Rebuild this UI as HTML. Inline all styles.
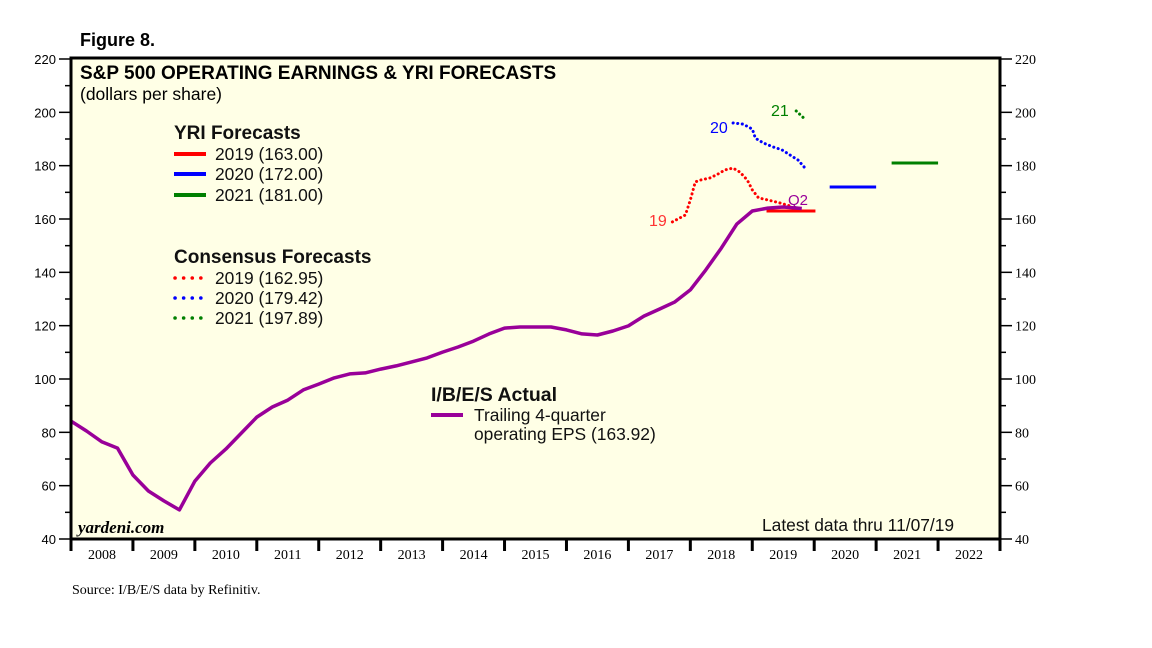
<!DOCTYPE html>
<html><head><meta charset="utf-8"><style>
body{margin:0;background:#fff;}
svg{display:block;}
</style></head><body>
<svg id="chart" width="1152" height="648" xmlns="http://www.w3.org/2000/svg">
<rect x="71" y="58" width="929" height="481" fill="#ffffe6"/>
<g id="grid"></g>
<g id="series"></g>
<rect x="71" y="58" width="929" height="481" fill="none" stroke="#000" stroke-width="3"/>
<text x="80" y="46" font-family="Liberation Sans, sans-serif" font-weight="bold" font-size="18">Figure 8.</text>
<text x="80" y="79" font-family="Liberation Sans, sans-serif" font-weight="bold" font-size="19">S&amp;P 500 OPERATING EARNINGS &amp; YRI FORECASTS</text>
<text x="80" y="100" font-family="Liberation Sans, sans-serif" font-size="17.5">(dollars per share)</text>
<g font-family="Liberation Sans, sans-serif" font-size="17.4" fill="#111">
<text x="174" y="139" font-weight="bold" font-size="19">YRI Forecasts</text>
<line x1="174" y1="154" x2="206" y2="154" stroke="#f00" stroke-width="4"/>
<text x="215" y="160">2019 (163.00)</text>
<line x1="174" y1="174" x2="206" y2="174" stroke="#00f" stroke-width="4"/>
<text x="215" y="180">2020 (172.00)</text>
<line x1="174" y1="195" x2="206" y2="195" stroke="#008000" stroke-width="4"/>
<text x="215" y="201">2021 (181.00)</text>
<text x="174" y="263" font-weight="bold" font-size="19">Consensus Forecasts</text>
<line x1="175" y1="278" x2="201" y2="278" stroke="#f00" stroke-width="3.5" stroke-dasharray="0.1,8.5" stroke-linecap="round"/>
<text x="215" y="284">2019 (162.95)</text>
<line x1="175" y1="298" x2="201" y2="298" stroke="#00f" stroke-width="3.5" stroke-dasharray="0.1,8.5" stroke-linecap="round"/>
<text x="215" y="304">2020 (179.42)</text>
<line x1="175" y1="318" x2="201" y2="318" stroke="#008000" stroke-width="3.5" stroke-dasharray="0.1,8.5" stroke-linecap="round"/>
<text x="215" y="324">2021 (197.89)</text>
<text x="431" y="401" font-weight="bold" font-size="19.5">I/B/E/S Actual</text>
<line x1="431" y1="415" x2="463" y2="415" stroke="#990099" stroke-width="4"/>
<text x="474" y="421">Trailing 4-quarter</text>
<text x="474" y="440">operating EPS (163.92)</text>
<text x="762" y="531">Latest data thru 11/07/19</text>
<text x="649" y="226" fill="#f33" font-size="16">19</text>
<text x="710" y="133" fill="#00f" font-size="16">20</text>
<text x="771" y="116" fill="#008000" font-size="16">21</text>
<text x="788" y="205" fill="#990099" font-size="15">Q2</text>
</g>
<text x="78" y="533" font-family="Liberation Serif, serif" font-style="italic" font-weight="bold" font-size="17">yardeni.com</text>
<text x="72" y="594" font-family="Liberation Serif, serif" font-size="14">Source: I/B/E/S data by Refinitiv.</text>
</svg>
<script>
const yTicks=[40,60,80,100,120,140,160,180,200,220];
const years=[2008,2009,2010,2011,2012,2013,2014,2015,2016,2017,2018,2019,2020,2021,2022];
const actualValues=[84.2,80.5,76.4,74.1,64,58,54.3,50.9,61.7,68.5,73.7,79.7,85.7,89.5,92.1,95.9,98.1,100.4,101.9,102.3,103.7,104.9,106.4,107.9,110.1,112,114.2,116.9,119.1,119.5,119.5,119.5,118.4,116.9,116.5,118,119.9,123.6,126.2,128.9,133.4,140.9,149.1,158.1,163,164.1,164.5,163.92];
const cons2019Dates=[2017.71,2017.92,2018.0,2018.08,2018.16,2018.32,2018.45,2018.56,2018.69,2018.8,2018.92,2019.0,2019.1,2019.26,2019.45,2019.61,2019.73];
const cons2019Values=[158.9,161.5,167.1,173.9,174.6,175.4,176.9,178.4,179.1,177.6,174.6,170.9,167.9,167.1,166,164.9,162.95];
const cons2020Dates=[2018.69,2018.85,2019.0,2019.05,2019.18,2019.34,2019.48,2019.61,2019.74,2019.84];
const cons2020Values=[196,195.6,193.7,190.3,188.5,187,185.9,184,182.1,179.42];
const cons2021Dates=[2019.71,2019.83];
const cons2021Values=[200.5,197.89];
const yriStart=[2019.23,2020.25,2021.25];
const yriEnd=[2020.02,2021.0,2022.0];
const yriValues=[163,172,181];
const yriColors=['#f00','#00f','#008000'];

const X0=71,X1=1000,Y0=539,Y1=59;
const xs=t=>X0+(t-2008)/15*(X1-X0);
const ys=v=>Y0-(v-40)/180*(Y0-Y1);
const NS='http://www.w3.org/2000/svg';
const svg=document.getElementById('chart');
const ser=document.getElementById('series');
function mk(tag,attrs,parent){const e=document.createElementNS(NS,tag);for(const k in attrs)e.setAttribute(k,attrs[k]);parent.appendChild(e);return e;}

yTicks.forEach((v,i)=>{
  const y=ys(v);
  const l=mk('line',{x1:X0-12,y1:y,x2:X0,y2:y,stroke:'#000','stroke-width':1.5},svg);
  
  
  const r=mk('line',{x1:X1,y1:y,x2:X1+12,y2:y,stroke:'#000','stroke-width':1.5},svg);
  
  
  const t=mk('text',{x:X0-15,y:y+5,'text-anchor':'end','font-family':'Liberation Sans, sans-serif','font-size':13},svg);
  t.textContent=v;
  
  
  const t2=mk('text',{x:X1+15,y:y+5,'font-family':'Liberation Serif, serif','font-size':14},svg);
  t2.textContent=v;
  
  
  if(i<yTicks.length-1){
    const ym=ys(v+10);
    const m1=mk('line',{x1:X0-6,y1:ym,x2:X0,y2:ym,stroke:'#000','stroke-width':1.5},svg);
    
    
    const m2=mk('line',{x1:X1,y1:ym,x2:X1+6,y2:ym,stroke:'#000','stroke-width':1.5},svg);
    
    
  }
});
years.forEach(yr=>{
  const x=xs(yr);
  const tk=mk('line',{x1:x,y1:Y0,x2:x,y2:Y0+12,stroke:'#000','stroke-width':3},svg);
  
  
  const t=mk('text',{x:xs(yr+0.5),y:Y0+20,'text-anchor':'middle','font-family':'Liberation Serif, serif','font-size':14},svg);
  t.textContent=yr;
  
  
});
const endTk=mk('line',{x1:X1,y1:Y0,x2:X1,y2:Y0+12,stroke:'#000','stroke-width':3},svg);



function poly(dates,vals,attrs,name){
  const pts=vals.map((v,i)=>xs(dates[i]).toFixed(1)+','+ys(v).toFixed(1)).join(' ');
  const p=mk('polyline',Object.assign({points:pts,fill:'none'},attrs),ser);
  
  
}
yriValues.forEach((v,i)=>{
  const l=mk('line',{x1:xs(yriStart[i]),y1:ys(v),x2:xs(yriEnd[i]),y2:ys(v),stroke:yriColors[i],'stroke-width':3},ser);
  
  
});
const dot={'stroke-width':3,'stroke-dasharray':'0.1,4.5','stroke-linecap':'round'};
poly(cons2019Dates,cons2019Values,Object.assign({stroke:'#f00'},dot),'consensus-2019-line');
poly(cons2020Dates,cons2020Values,Object.assign({stroke:'#00f'},dot),'consensus-2020-line');
poly(cons2021Dates,cons2021Values,Object.assign({stroke:'#008000'},dot),'consensus-2021-line');
const actualDates=actualValues.map((v,i)=>i<actualValues.length-1?2008+i*0.25:2019.8);
poly(actualDates,actualValues,{stroke:'#990099','stroke-width':3.5,'stroke-linejoin':'round'},'actual-eps-line');
</script>
</body></html>
